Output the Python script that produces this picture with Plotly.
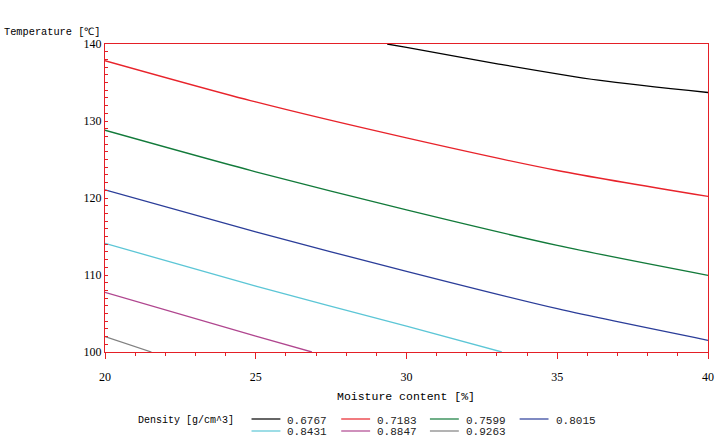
import plotly.graph_objects as go

# ---- data ----
levels = ["0.6767", "0.7183", "0.7599", "0.8015", "0.8431", "0.8847", "0.9263"]
colors = ["#000000", "#e8232b", "#127a3a", "#2b3d99", "#5cc6d6", "#b0468f", "#808080"]

x_0 = [29.36, 30.0, 33.06, 36.36, 40.0]
y_0 = [140.0, 139.55, 137.4, 135.3, 133.7]
x_1 = [20, 25, 30, 35, 40]
y_1 = [137.83, 132.47, 127.8, 123.57, 120.2]
x_2 = [20, 25, 30, 35, 40]
y_2 = [128.8, 123.4, 118.45, 113.85, 109.96]
x_3 = [20, 25, 30, 35, 40]
y_3 = [121.05, 115.6, 110.47, 105.62, 101.52]
x_4 = [20, 25, 30, 33.16]
y_4 = [114.1, 108.57, 103.35, 100.0]
x_5 = [20, 25, 26.86]
y_5 = [107.74, 102.07, 100.0]
x_6 = [20, 21.54]
y_6 = [101.99, 100.0]

xs = [x_0, x_1, x_2, x_3, x_4, x_5, x_6]
ys = [y_0, y_1, y_2, y_3, y_4, y_5, y_6]

x_ticks = [20, 25, 30, 35, 40]
y_ticks = [100, 110, 120, 130, 140]

AXIS_RED = "#e41f26"
MONO = "Liberation Mono, DejaVu Sans Mono, monospace"
SERIF = "Liberation Serif, DejaVu Serif, serif"

W, H = 726, 444
L, R, T, B = 105, 16, 44, 92
PW, PH = W - L - R, H - T - B


def px(xp):
    return (xp - L) / PW


def py(yp):
    return (H - B - yp) / PH


fig = go.Figure()
for lv, c, xx, yy in zip(levels, colors, xs, ys):
    fig.add_trace(go.Scatter(x=xx, y=yy, mode="lines", name=lv,
                             line=dict(color=c, width=1.3, shape="spline", smoothing=0.8),
                             showlegend=False))

annotations = [
    dict(text="Temperature [℃]", x=px(2), y=py(32), xref="paper", yref="paper",
         xanchor="left", yanchor="middle", showarrow=False,
         font=dict(family=MONO, size=10.3, color="black")),
    dict(text="Moisture content [%]", x=px(407), y=py(396), xref="paper", yref="paper",
         xanchor="center", yanchor="middle", showarrow=False,
         font=dict(family=MONO, size=11.5, color="black")),
    dict(text="Density [g/cm^3]", x=px(136), y=py(420.5), xref="paper", yref="paper",
         xanchor="left", yanchor="middle", showarrow=False,
         font=dict(family=MONO, size=10, color="black")),
]
shapes = []
col_line_x = [252, 342, 431, 521]
row_y = [420.5, 432.5]
for i in range(len(levels)):
    r = 0 if i < 4 else 1
    cidx = i if i < 4 else i - 4
    lx = col_line_x[cidx]
    yl = row_y[r] - 1.5
    shapes.append(dict(type="line", xref="paper", yref="paper",
                       x0=px(lx), x1=px(lx + 29), y0=py(yl), y1=py(yl),
                       line=dict(color=colors[i], width=1.2)))
    annotations.append(dict(text=levels[i], x=px(lx + 34), y=py(row_y[r]),
                            xref="paper", yref="paper", xanchor="left", yanchor="middle",
                            showarrow=False,
                            font=dict(family=MONO, size=11, color="#222222")))

fig.update_layout(
    width=W, height=H,
    margin=dict(l=L, r=R, t=T, b=B),
    paper_bgcolor="white", plot_bgcolor="white",
    showlegend=False,
    annotations=annotations,
    shapes=shapes,
    xaxis=dict(range=[20, 40], tickvals=x_ticks, showgrid=False, zeroline=False,
               showline=True, linecolor=AXIS_RED, linewidth=1, mirror=True,
               ticks="outside", ticklen=6, tickcolor=AXIS_RED, tickwidth=1,
               ticklabelstandoff=8,
               tickfont=dict(family=SERIF, size=12, color="black"),
               minor=dict(dtick=1, ticks="outside", ticklen=3, tickcolor=AXIS_RED,
                          showgrid=False)),
    yaxis=dict(range=[100, 140], tickvals=y_ticks, showgrid=False, zeroline=False,
               showline=True, linecolor=AXIS_RED, linewidth=1, mirror=True,
               ticks="inside", ticklen=3, tickcolor=AXIS_RED, tickwidth=1,
               tickfont=dict(family=SERIF, size=12, color="black"),
               minor=dict(dtick=1, ticks="inside", ticklen=3, tickcolor=AXIS_RED,
                          showgrid=False)),
)

fig.write_html("out.html")
